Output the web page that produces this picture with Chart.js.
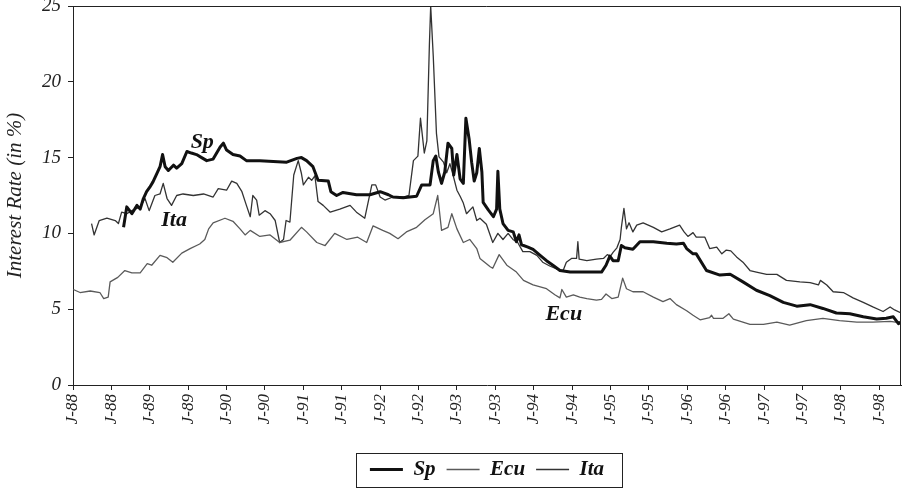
<!DOCTYPE html>
<html>
<head>
<meta charset="utf-8">
<script src="https://cdn.jsdelivr.net/npm/chart.js@4.4.1/dist/chart.umd.min.js"></script>
<style>
    html, body { margin: 0; padding: 0; background: #fff; }
    #wrap { width: 903px; height: 490px; }
</style>
</head>
<body>
<div id="wrap"><canvas id="rates"></canvas></div>
<script>
// x = months since January 1988, y = interest rate in %
const tickLabels = ['J-88', 'J-88', 'J-89', 'J-89', 'J-90', 'J-90', 'J-91', 'J-91', 'J-92', 'J-92', 'J-93',
    'J-93', 'J-94', 'J-94', 'J-95', 'J-95', 'J-96', 'J-96', 'J-97', 'J-97', 'J-98', 'J-98'];

const spSeries = [
    [7.9, 10.4], [8.4, 11.75], [9.2, 11.3], [10.0, 11.85], [10.5, 11.6], [11.0, 12.3], [11.5, 12.75], [12.0, 13.05],
    [12.5, 13.4], [13.1, 13.95], [13.6, 14.4], [14.0, 15.2], [14.4, 14.4], [14.9, 14.15], [15.7, 14.5], [16.2, 14.3],
    [17.0, 14.6], [17.8, 15.4], [18.5, 15.3], [19.3, 15.2], [20.1, 15.0], [20.9, 14.8], [21.9, 14.9], [23.0, 15.7],
    [23.5, 15.95], [24.0, 15.5], [25.0, 15.2], [26.1, 15.1], [27.1, 14.8], [29.2, 14.8], [31.3, 14.75], [33.4, 14.7],
    [35.0, 14.95], [35.7, 15.0], [36.5, 14.8], [37.5, 14.4], [38.3, 13.5], [39.9, 13.45], [40.3, 12.75], [41.2, 12.5],
    [42.2, 12.7], [44.3, 12.55], [46.4, 12.55], [48.0, 12.75], [49.3, 12.55], [50.0, 12.4], [51.6, 12.35], [53.7, 12.45],
    [54.5, 13.2], [55.8, 13.2], [56.3, 14.8], [56.7, 15.1], [57.1, 14.05], [57.6, 13.3], [58.1, 14.05], [58.6, 15.95],
    [59.2, 15.6], [59.5, 13.85], [60.0, 15.2], [60.5, 13.6], [61.0, 13.3], [61.4, 17.6], [61.9, 16.25], [62.3, 14.7],
    [62.7, 13.45], [63.1, 14.0], [63.5, 15.6], [63.9, 14.05], [64.1, 12.05], [64.9, 11.55], [65.7, 11.1], [66.2, 11.6],
    [66.4, 14.1], [66.7, 11.6], [67.2, 10.65], [68.0, 10.2], [68.8, 10.1], [69.3, 9.45], [69.7, 9.9], [70.1, 9.25],
    [71.1, 9.1], [71.9, 8.95], [73.0, 8.55], [74.0, 8.2], [75.0, 7.9], [76.1, 7.55], [77.7, 7.45], [79.2, 7.45],
    [80.8, 7.45], [82.6, 7.45], [83.3, 7.9], [83.9, 8.5], [84.4, 8.2], [85.2, 8.2], [85.7, 9.2], [86.25, 9.05],
    [87.5, 8.95], [88.6, 9.45], [90.7, 9.45], [92.8, 9.35], [94.3, 9.3], [95.4, 9.35], [95.9, 9.0], [96.9, 8.65],
    [97.4, 8.65], [99.0, 7.55], [101.1, 7.25], [102.7, 7.3], [104.7, 6.8], [106.8, 6.25], [108.9, 5.9], [111.0, 5.45],
    [113.1, 5.2], [115.2, 5.3], [117.2, 5.05], [119.3, 4.75], [121.4, 4.7], [123.5, 4.5], [125.6, 4.35], [127.1, 4.4],
    [128.2, 4.5], [129.0, 4.05], [129.4, 4.15]
];

const ecuSeries = [
    [0.05, 6.3], [1.1, 6.1], [2.7, 6.2], [4.2, 6.1], [4.8, 5.7], [5.5, 5.8], [5.8, 6.8], [7.0, 7.1], [8.1, 7.55],
    [9.2, 7.4], [10.5, 7.4], [11.6, 8.0], [12.3, 7.9], [13.6, 8.55], [14.7, 8.4], [15.6, 8.1], [17.0, 8.7], [18.3, 9.0],
    [19.8, 9.3], [20.6, 9.6], [21.2, 10.3], [21.9, 10.7], [23.75, 11.0], [25.0, 10.8], [26.1, 10.3], [26.9, 9.9],
    [27.7, 10.2], [29.2, 9.8], [30.8, 9.9], [32.3, 9.4], [33.9, 9.55], [35.7, 10.4], [36.5, 10.1], [38.1, 9.4],
    [39.4, 9.2], [40.9, 10.0], [42.8, 9.6], [44.5, 9.75], [45.9, 9.4], [46.9, 10.5], [48.4, 10.2], [49.5, 10.0],
    [50.8, 9.65], [52.1, 10.1], [53.7, 10.4], [55.0, 10.9], [56.3, 11.3], [57.0, 12.5], [57.6, 10.2], [58.6, 10.4],
    [59.2, 11.3], [60.0, 10.3], [61.0, 9.4], [62.0, 9.6], [63.1, 9.0], [63.6, 8.35], [65.2, 7.8], [65.6, 7.7],
    [66.6, 8.6], [67.8, 7.9], [69.3, 7.45], [70.4, 6.9], [71.9, 6.6], [74.0, 6.35], [75.3, 5.95], [76.1, 5.75],
    [76.4, 6.3], [77.1, 5.8], [78.2, 5.95], [79.2, 5.8], [80.3, 5.7], [81.8, 5.6], [82.6, 5.65], [83.3, 6.0],
    [84.2, 5.7], [85.2, 5.8], [85.9, 7.05], [86.5, 6.35], [87.5, 6.15], [89.1, 6.15], [90.7, 5.8], [92.2, 5.5],
    [93.3, 5.7], [94.3, 5.3], [95.9, 4.9], [96.9, 4.6], [98.0, 4.3], [99.5, 4.45], [99.8, 4.6], [100.1, 4.4],
    [101.6, 4.4], [102.5, 4.7], [103.2, 4.35], [105.8, 4.0], [107.9, 4.0], [110.0, 4.15], [112.0, 3.95], [114.6, 4.25],
    [117.2, 4.4], [119.8, 4.25], [122.5, 4.15], [125.0, 4.15], [127.7, 4.2], [129.4, 4.1]
];

const itaSeries = [
    [2.9, 10.65], [3.3, 9.9], [4.1, 10.85], [5.3, 11.0], [6.6, 10.85], [7.1, 10.65], [7.6, 11.4], [8.4, 11.3],
    [9.2, 11.5], [10.5, 11.75], [11.25, 12.3], [11.9, 11.5], [12.8, 12.5], [13.6, 12.6], [14.1, 13.3], [14.7, 12.3],
    [15.4, 11.85], [16.2, 12.5], [17.2, 12.6], [18.8, 12.5], [20.4, 12.6], [21.9, 12.4], [22.7, 12.95], [24.0, 12.85],
    [24.8, 13.45], [25.6, 13.3], [26.4, 12.75], [27.1, 11.85], [27.7, 11.1], [28.1, 12.5], [28.7, 12.2], [29.1, 11.2],
    [30.0, 11.5], [30.8, 11.3], [31.6, 10.85], [32.3, 9.4], [32.9, 9.6], [33.3, 10.85], [33.9, 10.75], [34.5, 13.85],
    [35.2, 14.8], [35.7, 13.95], [36.0, 13.2], [36.8, 13.7], [37.3, 13.5], [37.8, 13.8], [38.3, 12.1], [39.1, 11.85],
    [40.2, 11.4], [41.7, 11.6], [43.3, 11.85], [44.3, 11.4], [45.6, 11.0], [46.7, 13.2], [47.3, 13.2], [48.0, 12.4],
    [48.75, 12.2], [50.0, 12.4], [51.6, 12.4], [52.5, 12.5], [53.2, 14.8], [53.9, 15.1], [54.3, 17.6], [54.9, 15.3],
    [55.3, 16.1], [55.7, 22.5], [55.9, 25.0], [56.3, 21.7], [56.8, 16.6], [57.2, 15.05], [57.9, 14.7], [58.4, 14.0],
    [58.9, 14.6], [59.3, 14.0], [60.0, 12.85], [60.5, 12.45], [61.0, 12.0], [61.5, 11.3], [62.5, 11.75], [63.1, 10.85],
    [63.6, 11.0], [64.6, 10.6], [65.6, 9.4], [66.4, 10.0], [67.2, 9.6], [68.0, 10.0], [68.75, 9.6], [69.5, 9.4],
    [70.3, 8.8], [71.4, 8.8], [72.5, 8.55], [73.4, 8.1], [74.5, 7.85], [75.6, 7.65], [76.6, 7.55], [77.1, 8.1],
    [77.9, 8.35], [78.7, 8.35], [78.9, 9.45], [79.1, 8.3], [80.3, 8.2], [81.8, 8.3], [82.9, 8.35], [83.5, 8.6],
    [84.0, 8.5], [84.4, 8.75], [85.0, 9.05], [85.5, 9.6], [85.7, 10.4], [86.1, 11.65], [86.5, 10.3], [86.9, 10.7],
    [87.5, 10.1], [88.1, 10.55], [89.1, 10.7], [90.7, 10.4], [92.0, 10.1], [93.3, 10.3], [94.8, 10.55], [95.5, 10.1],
    [96.1, 9.8], [96.9, 10.05], [97.4, 9.75], [98.75, 9.75], [99.5, 9.0], [100.6, 9.1], [101.4, 8.65], [102.1, 8.9],
    [102.8, 8.85], [103.7, 8.45], [104.7, 8.1], [105.8, 7.55], [106.8, 7.45], [108.4, 7.3], [110.0, 7.3], [111.5, 6.9],
    [113.6, 6.8], [115.2, 6.75], [116.5, 6.6], [116.8, 6.9], [117.8, 6.6], [118.8, 6.15], [120.4, 6.1], [121.9, 5.75],
    [123.5, 5.45], [125.0, 5.15], [126.6, 4.85], [127.7, 5.15], [128.4, 4.95], [129.4, 4.75]
];

// in-plot series names, placed in data coordinates [text, month, rate]
const seriesNotes = [['Sp', 20.2, 16.0], ['Ita', 15.8, 10.86], ['Ecu', 76.7, 4.65]];

const SERIF = "'Liberation Serif', 'Times New Roman', serif";
const INK = '#222';

const toPoints = (rows) => rows.map(([x, y]) => ({ x, y }));

const lineStyle = (color, width) => ({
    borderColor: color,
    backgroundColor: color,
    borderWidth: width,
    pointRadius: 0,
    tension: 0,
    borderJoinStyle: 'round',
    fill: false
});

// top/right frame, series names in the plot and the boxed legend
const framePlugin = {
    id: 'frameAndNotes',
    afterDatasetsDraw(chart) {
        const { ctx, chartArea: a, scales } = chart;
        ctx.save();
        ctx.strokeStyle = INK;
        ctx.lineWidth = 1;
        ctx.beginPath();
        ctx.moveTo(a.left, a.top + 0.5);
        ctx.lineTo(a.right - 0.5, a.top + 0.5);
        ctx.lineTo(a.right - 0.5, a.bottom);
        ctx.stroke();

        ctx.fillStyle = '#111';
        ctx.font = 'italic bold 22px ' + SERIF;
        ctx.textAlign = 'center';
        ctx.textBaseline = 'middle';
        seriesNotes.forEach(([text, m, v]) => {
            ctx.fillText(text, scales.x.getPixelForValue(m), scales.y.getPixelForValue(v));
        });
        ctx.restore();
    },
    afterDraw(chart) {
        const boxes = chart.legend.legendHitBoxes;
        if (!boxes || !boxes.length) return;
        const left = Math.min(...boxes.map(b => b.left)) - 14;
        const right = Math.max(...boxes.map(b => b.left + b.width)) + 18;
        const top = boxes[0].top - 6;
        const bottom = boxes[0].top + boxes[0].height + 7;
        const ctx = chart.ctx;
        ctx.save();
        ctx.strokeStyle = INK;
        ctx.lineWidth = 1;
        ctx.strokeRect(Math.round(left) + 0.5, Math.round(top) + 0.5, Math.round(right - left), Math.round(bottom - top));
        ctx.restore();
    }
};

const chart = new Chart(document.getElementById('rates'), {
    type: 'line',
    data: {
        datasets: [
            { label: 'Sp', data: toPoints(spSeries), ...lineStyle('#111', 3) },
            { label: 'Ecu', data: toPoints(ecuSeries), ...lineStyle('#5a5a5a', 1.3) },
            { label: 'Ita', data: toPoints(itaSeries), ...lineStyle('#333', 1.3) }
        ]
    },
    options: {
        responsive: true,
        maintainAspectRatio: false,
        animation: false,
        devicePixelRatio: 1,
        layout: { padding: { top: 6, right: 2, left: 0, bottom: 0 } },
        scales: {
            x: {
                type: 'linear',
                min: 0,
                max: 129.4,
                border: { color: INK, width: 1 },
                grid: { drawOnChartArea: false, drawTicks: true, tickLength: 5, color: INK },
                ticks: {
                    autoSkip: false,
                    minRotation: 90,
                    maxRotation: 90,
                    padding: 4,
                    color: INK,
                    font: { family: SERIF, size: 17, style: 'italic' },
                    callback: (value, index) => tickLabels[index]
                },
                afterBuildTicks: (scale) => {
                    scale.ticks = tickLabels.map((_, i) => ({ value: i * 6 }));
                },
                afterFit: (scale) => {
                    scale.height = 63;
                    scale.paddingLeft = 0;
                    scale.paddingRight = 0;
                }
            },
            y: {
                min: 0,
                max: 25,
                border: { color: INK, width: 1 },
                grid: { drawOnChartArea: false, drawTicks: true, tickLength: 5, color: INK },
                ticks: {
                    stepSize: 5,
                    padding: 7,
                    color: INK,
                    font: { family: SERIF, size: 19, style: 'italic' }
                },
                title: {
                    display: true,
                    text: 'Interest Rate (in %)',
                    color: INK,
                    font: { family: SERIF, size: 21, style: 'italic' },
                    padding: { top: 3, bottom: 0 }
                },
                afterFit: (scale) => {
                    scale.width = 73;
                    scale.paddingTop = 0;
                    scale.paddingBottom = 0;
                }
            }
        },
        plugins: {
            legend: {
                position: 'bottom',
                fullSize: false,
                labels: {
                    usePointStyle: true,
                    pointStyle: 'line',
                    pointStyleWidth: 33,
                    padding: 11,
                    color: '#111',
                    font: { family: SERIF, size: 21, style: 'italic', weight: 'bold' }
                }
            },
            tooltip: { enabled: false }
        }
    },
    plugins: [framePlugin]
});
</script>
</body>
</html>
